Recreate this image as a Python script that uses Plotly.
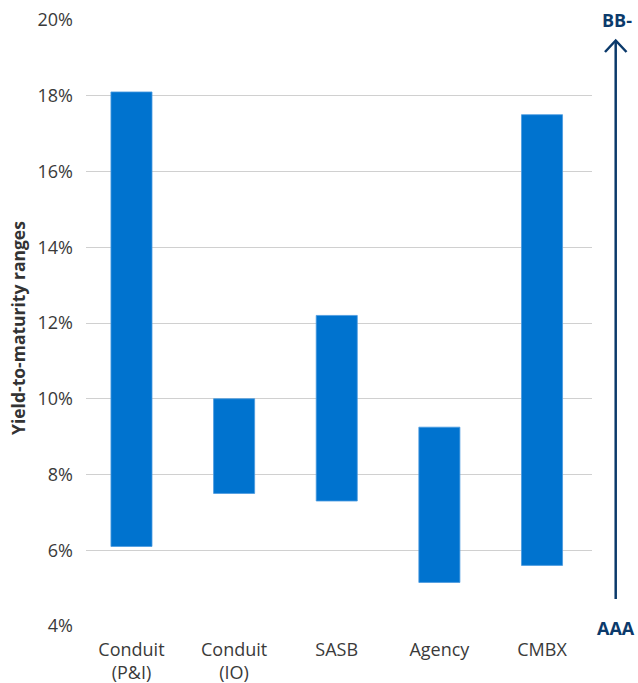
import plotly.graph_objects as go

categories = ["Conduit<br>(P&I)", "Conduit<br>(IO)", "SASB", "Agency", "CMBX"]
low_values = [6.1, 7.5, 7.3, 5.15, 5.6]
high_values = [18.1, 10.0, 12.2, 9.25, 17.5]
y_ticks = [4, 6, 8, 10, 12, 14, 16, 18, 20]
y_tick_labels = [f"{v}%" for v in y_ticks]

W, H = 638, 683
L, R, T, B = 86, 46, 20, 57
pw, ph = W - L - R, H - T - B

def px(x):
    return (x - L) / pw

def py(y):
    return (H - B - y) / ph

BAR = "#0073CF"
NAVY = "#0B3A6B"
TXT = "#3A3A3A"
FONT = "Open Sans"

xs = list(range(len(categories)))
fig = go.Figure()
fig.add_trace(go.Bar(
    x=xs,
    y=[h - l for h, l in zip(high_values, low_values)],
    base=low_values,
    width=0.4,
    marker=dict(color=BAR, line=dict(color="#4A9BE0", width=0.8)),
    hoverinfo="skip",
))

fig.update_layout(
    width=W, height=H,
    margin=dict(l=L, r=R, t=T, b=B, autoexpand=False),
    plot_bgcolor="white", paper_bgcolor="white",
    showlegend=False,
    font=dict(family=FONT, size=18, color=TXT),
    xaxis=dict(
        tickmode="array", tickvals=xs, ticktext=categories,
        range=[-0.443, 4.487], showgrid=False, zeroline=False,
        showline=False, ticks="", ticklabelstandoff=11, automargin=False,
        tickfont=dict(size=18, color=TXT),
    ),
    yaxis=dict(
        range=[4, 20], tickmode="array", tickvals=y_ticks, ticktext=y_tick_labels,
        showgrid=True, gridcolor="#D0D0D0", gridwidth=1, zeroline=False,
        showline=False, ticks="", ticklabelstandoff=12, automargin=False,
        tickfont=dict(size=18, color=TXT),
    ),
)

# y-axis title
fig.add_annotation(
    text="<b>Yield-to-maturity ranges</b>", textangle=-90,
    xref="paper", yref="paper", x=px(18), y=py(328),
    xanchor="center", yanchor="middle", showarrow=False,
    font=dict(family=FONT, size=17.5, color="#333333"),
)

# rating arrow
ax = 615.7
fig.add_shape(type="line", xref="paper", yref="paper",
              x0=px(ax), x1=px(ax), y0=py(599), y1=py(41),
              line=dict(color=NAVY, width=2.5))
fig.add_shape(type="path", xref="paper", yref="paper",
              path=f"M{px(605)},{py(52)} L{px(ax)},{py(40.5)} L{px(626.5)},{py(52)}",
              line=dict(color=NAVY, width=2.5))
fig.add_annotation(text="<b>BB-</b>", xref="paper", yref="paper",
                   x=px(617), y=py(20), xanchor="center", yanchor="middle",
                   showarrow=False, font=dict(family=FONT, size=18, color=NAVY))
fig.add_annotation(text="<b>AAA</b>", xref="paper", yref="paper",
                   x=px(616), y=py(628), xanchor="center", yanchor="middle",
                   showarrow=False, font=dict(family=FONT, size=18, color=NAVY))

fig.write_html("out.html")
